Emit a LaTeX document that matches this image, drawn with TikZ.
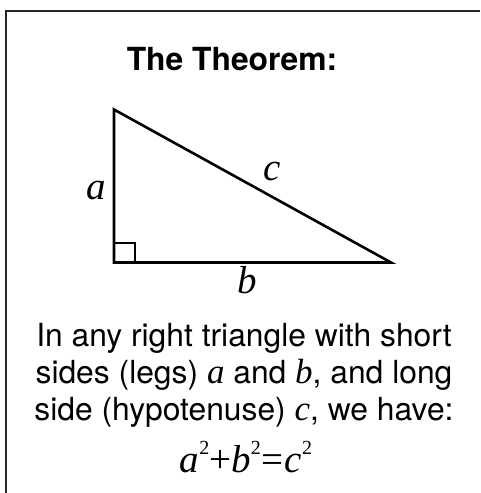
\documentclass[tikz,border=0pt]{standalone}
\usepackage{fontspec}
\setmainfont{TeX Gyre Heros}
\newfontfamily\tms{Liberation Serif}
\newcommand{\mv}[1]{{\tms\itshape #1}}
\newcommand{\iv}[1]{{\tms\itshape\fontsize{35}{37}\selectfont #1}}
\newcommand{\sq}{\raisebox{0.45em}{\tms\fontsize{20}{20}\selectfont 2}}
\usetikzlibrary{calc}

\begin{document}
\begin{tikzpicture}[x=1pt,y=-1pt,
  side/.style={line width=2.6pt,line join=miter},
  lbl/.style={inner sep=0pt,anchor=base,font=\fontsize{39}{39}\selectfont},
  txt/.style={inner sep=0pt,anchor=base,font=\fontsize{31.8}{37}\selectfont}]
  \useasboundingbox (0,0) rectangle (480,493);
  % frame, runs off at the right and the bottom
  \draw[line width=2pt,black!85] (480,11) -- (6,11) -- (6,493);
  \node[txt,font=\bfseries\fontsize{31.8}{37}\selectfont] (title) at (232,70) {The Theorem:};
  % the triangle
  \coordinate (A) at (114,109.5);
  \coordinate (C) at (114,262.5);
  \coordinate (B) at (391,262.5);
  \draw[side] (A) -- (C) -- (B) -- cycle;
  \draw[line width=2pt] ($(C)+(20.5,0)$) -- ++(0,-19.5) -- ($(C)+(0,-19.5)$);
  \node[lbl] (la) at (96,199) {\mv{a}};
  \node[lbl] (lc) at (272,180) {\mv{c}};
  \node[lbl] (lb) at (247,293) {\mv{b}};
  % statement
  \node[txt] (line1) at (244,346) {In any right triangle with short};
  \node[txt] (line2) at (244,383) {sides (legs) \iv{a} and \iv{b}, and long};
  \node[txt] (line3) at (244,420) {side (hypotenuse) \iv{c}, we have:};
  \node[lbl] (eq) at (246,472) {\mv{a}\sq{\tms+}\mv{b}\sq\kern1pt{\tms=}\kern1pt\mv{c}\sq};
\end{tikzpicture}
\end{document}
